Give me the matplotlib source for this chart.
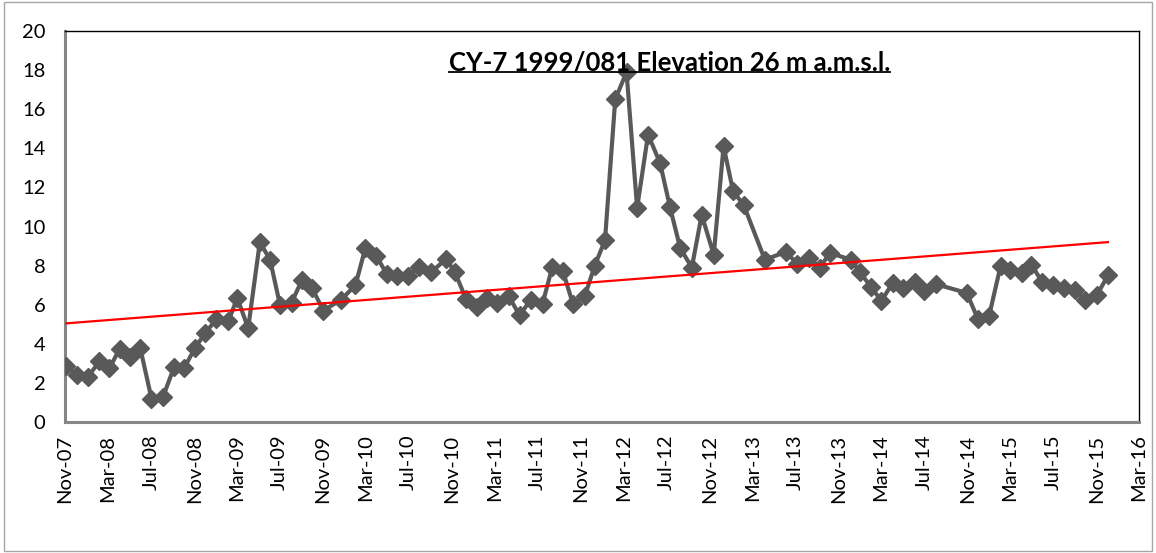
import numpy as np
import pandas as pd
import matplotlib
matplotlib.use("Agg")
import matplotlib.pyplot as plt
import matplotlib.dates as mdates
from matplotlib.patches import Rectangle
from matplotlib.lines import Line2D

plt.rcParams['font.family'] = ['Lato', 'DejaVu Sans']

# sampling dates and water level values
dates = [
    '2007-11-05', '2007-12-05', '2008-01-05', '2008-02-06', '2008-03-06', '2008-04-04',
    '2008-05-02', '2008-06-01', '2008-07-03', '2008-08-05', '2008-09-05', '2008-10-03',
    '2008-11-04', '2008-12-02', '2009-01-03', '2009-02-06', '2009-03-03', '2009-04-03',
    '2009-05-06', '2009-06-04', '2009-07-02', '2009-08-04', '2009-09-02', '2009-10-01',
    '2009-11-02', '2009-12-22', '2010-02-01', '2010-03-01', '2010-04-01', '2010-05-01',
    '2010-05-30', '2010-07-01', '2010-08-01', '2010-09-03', '2010-10-16', '2010-11-10',
    '2010-12-11', '2011-01-11', '2011-02-09', '2011-03-10', '2011-04-11', '2011-05-12',
    '2011-06-12', '2011-07-16', '2011-08-13', '2011-09-12', '2011-10-10', '2011-11-13',
    '2011-12-11', '2012-01-09', '2012-02-07', '2012-03-10', '2012-04-09', '2012-05-10',
    '2012-06-13', '2012-07-11', '2012-08-09', '2012-09-11', '2012-10-09', '2012-11-12',
    '2012-12-10', '2013-01-06', '2013-02-05', '2013-04-06', '2013-06-04', '2013-07-07',
    '2013-08-09', '2013-09-09', '2013-10-07', '2013-12-06', '2014-01-01', '2014-02-01',
    '2014-03-02', '2014-04-03', '2014-05-01', '2014-06-04', '2014-07-01', '2014-08-04',
    '2014-10-30', '2014-12-01', '2015-01-01', '2015-02-03', '2015-03-01', '2015-04-04',
    '2015-05-01', '2015-06-01', '2015-07-01', '2015-08-01', '2015-09-02', '2015-10-01',
    '2015-11-03', '2015-12-04',
]
levels = [
    2.85, 2.4, 2.3, 3.1, 2.75, 3.75,
    3.35, 3.8, 1.2, 1.3, 2.8, 2.75,
    3.8, 4.55, 5.25, 5.15, 6.35, 4.8,
    9.2, 8.3, 6.0, 6.1, 7.25, 6.85,
    5.7, 6.25, 7.0, 8.9, 8.5, 7.55,
    7.45, 7.45, 7.95, 7.65, 8.35, 7.65,
    6.3, 5.9, 6.35, 6.1, 6.45, 5.45,
    6.25, 6.05, 7.95, 7.7, 6.05, 6.45,
    8.0, 9.3, 16.5, 17.9, 10.95, 14.7,
    13.25, 11.0, 8.9, 7.9, 10.6, 8.55,
    14.1, 11.8, 11.1, 8.3, 8.7, 8.1,
    8.4, 7.9, 8.65, 8.3, 7.65, 6.9,
    6.2, 7.1, 6.85, 7.15, 6.7, 7.05,
    6.6, 5.25, 5.4, 8.0, 7.8, 7.6,
    8.05, 7.15, 7.0, 6.85, 6.75, 6.25,
    6.5, 7.5,
]
title = "CY-7 1999/081 Elevation 26 m a.m.s.l."

x = pd.to_datetime(dates)
y = np.array(levels)

fig = plt.figure(figsize=(11.56, 5.53), dpi=100)
ax = fig.add_axes([65 / 1156, 1 - 422 / 553, (1139 - 65) / 1156, (422 - 31) / 553])

ax.plot(x, y, color='#595959', lw=3, marker='D', ms=9.5, mfc='#595959', mec='#595959', zorder=3)

# linear trend line (Excel-style)
xn = mdates.date2num(x)
k, b = np.polyfit(xn, y, 1)
ax.plot(x[[0, -1]], k * xn[[0, -1]] + b - 0.08, color='red', lw=1.6, zorder=4)

ax.set_ylim(0, 20)
ax.set_yticks(np.arange(0, 21, 2))
ax.set_xlim(pd.Timestamp('2007-11-01'), pd.Timestamp('2016-03-01'))
ax.xaxis.set_major_locator(mdates.MonthLocator(bymonth=[3, 7, 11]))
ax.xaxis.set_major_formatter(mdates.DateFormatter('%b-%y'))
ax.tick_params(axis='both', length=0, labelsize=14.5, colors='black')
ax.tick_params(axis='y', pad=14)
ax.tick_params(axis='x', labelrotation=90, pad=9)

for side in ['top', 'right']:
    ax.spines[side].set_color('black')
    ax.spines[side].set_linewidth(1)
for side in ['left', 'bottom']:
    ax.spines[side].set_color('#868686')
    ax.spines[side].set_linewidth(2.2)

t = ax.text(0.563, 0.918, title, transform=ax.transAxes, ha='center', va='center',
            fontsize=18.5, fontweight='bold', color='black', zorder=5)

# underline the title
fig.canvas.draw()
bb = t.get_window_extent(fig.canvas.get_renderer()).transformed(fig.transFigure.inverted())
uy = bb.y0 + 0.005
fig.add_artist(Line2D([bb.x0, bb.x1], [uy, uy], color='black', lw=1.3, transform=fig.transFigure))

# chart area border
fig.add_artist(Rectangle((4 / 1156, 2 / 553), 1 - 8 / 1156, 1 - 4 / 553, transform=fig.transFigure,
                         fill=False, edgecolor='#a6a6a6', lw=1))

fig.savefig('out.png', dpi=100)
